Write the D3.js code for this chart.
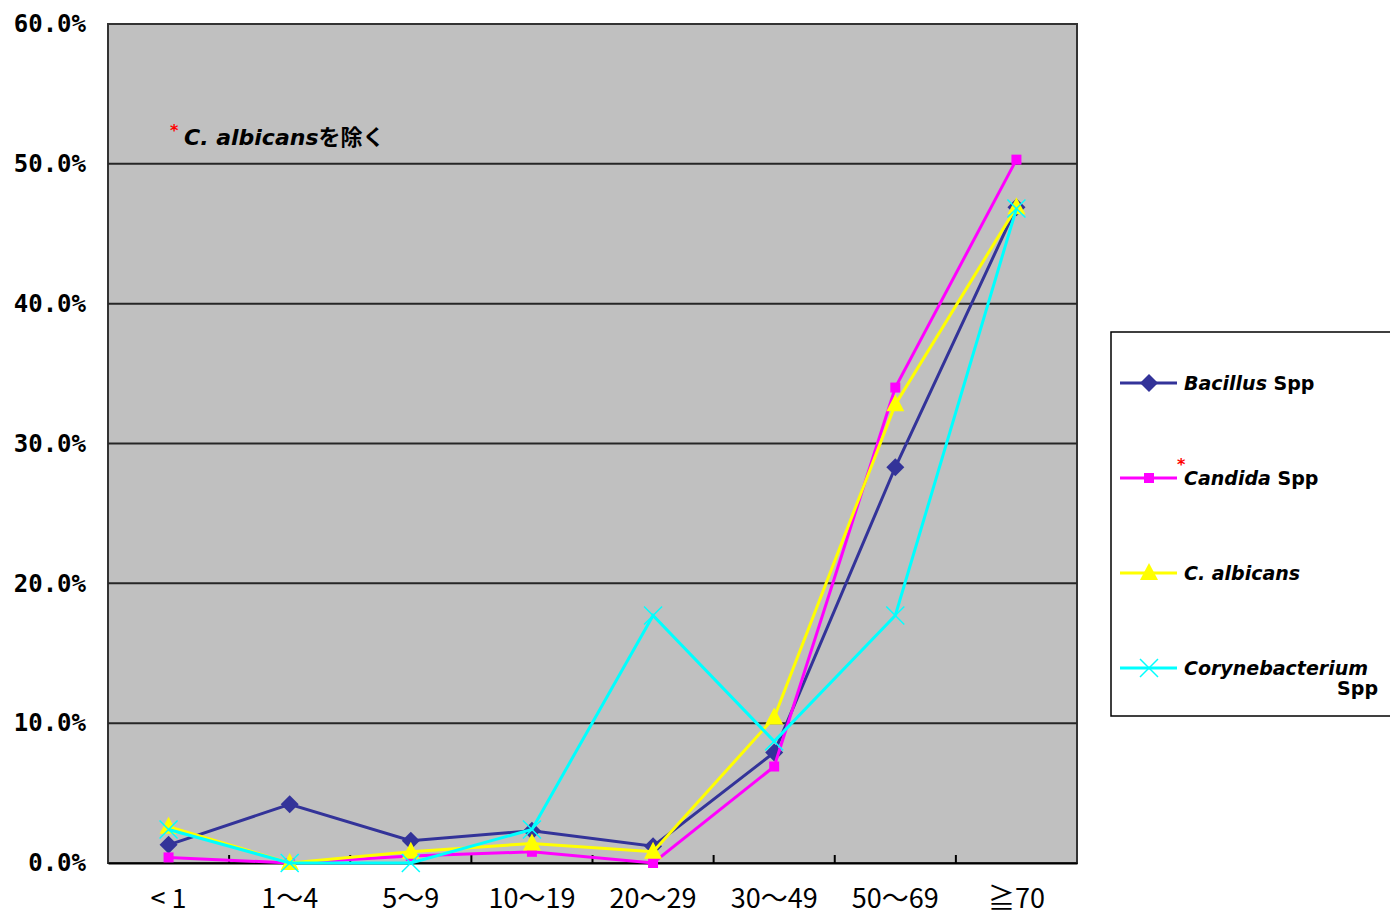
<!DOCTYPE html>
<html><head><meta charset="utf-8">
<script src="https://cdn.jsdelivr.net/npm/d3@7"></script>
<style>body{margin:0;background:#fff}svg{display:block}</style>
</head><body>
<svg id="c" width="1390" height="915"></svg>
<script>
const categories = ["< 1", "1～4", "5～9", "10～19", "20～29", "30～49", "50～69", "≧70"];
const bacillus = [1.3, 4.2, 1.6, 2.3, 1.2, 7.9, 28.3, 46.9];
const candida = [0.4, 0.0, 0.5, 0.8, 0.0, 6.9, 34.0, 50.3];
const albicans = [2.6, 0.0, 0.8, 1.4, 0.8, 10.4, 32.8, 46.9];
const coryne = [2.4, 0.0, 0.0, 2.4, 17.7, 8.7, 17.7, 46.8];
const yTicks = [0, 10, 20, 30, 40, 50, 60];

const series = [
  {name: "Bacillus", values: bacillus, color: "#333399", marker: "diamond"},
  {name: "Candida", values: candida, color: "#ff00ff", marker: "square"},
  {name: "C. albicans", values: albicans, color: "#ffff00", marker: "triangle"},
  {name: "Corynebacterium", values: coryne, color: "#00ffff", marker: "x"}
];

const svg = d3.select("#c");
const L = 108, R = 1077, T = 24, B = 863;
const x = d3.scaleBand().domain(categories).range([L, R]);
const y = d3.scaleLinear().domain([0, 60]).range([B, T]);

svg.append("rect").attr("x", L).attr("y", T).attr("width", R - L).attr("height", B - T)
  .attr("fill", "#c0c0c0").attr("stroke", "#333").attr("stroke-width", 2);

// gridlines
svg.append("g").selectAll("line").data(yTicks.filter(d => d > 0 && d < 60)).join("line")
  .attr("x1", L).attr("x2", R).attr("y1", d => y(d)).attr("y2", d => y(d))
  .attr("stroke", "#262626").attr("stroke-width", 2);

// y axis labels
const yAxis = d3.axisLeft(y).tickValues(yTicks).tickSize(0).tickPadding(22)
  .tickFormat(d => d.toFixed(1) + "%");
const gy = svg.append("g").attr("transform", `translate(${L},0)`).call(yAxis);
gy.select(".domain").remove();
gy.selectAll("text").attr("font-family", "'DejaVu Sans Mono', monospace").attr("font-weight", "bold")
  .attr("font-size", 24).attr("fill", "#000");

// x axis
const xAxis = d3.axisBottom(x).tickSize(0).tickPadding(26);
const gx = svg.append("g").attr("transform", `translate(0,${B})`).call(xAxis);
gx.select(".domain").attr("stroke", "#000").attr("stroke-width", 2);
gx.selectAll("text").attr("font-family", "'Noto Sans CJK JP', sans-serif")
  .attr("font-size", 27).attr("fill", "#000");
// boundary ticks pointing inward
svg.append("g").selectAll("line").data(categories.slice(1)).join("line")
  .attr("x1", d => x(d)).attr("x2", d => x(d)).attr("y1", B).attr("y2", B - 8)
  .attr("stroke", "#000").attr("stroke-width", 2);

const cx = (c) => x(c) + x.bandwidth() / 2;
const line = d3.line().x(d => cx(d.c)).y(d => y(d.v));

function drawMarker(g, type, px, py, color) {
  if (type === "diamond") {
    g.append("path").attr("d", `M${px},${py - 9}L${px + 9},${py}L${px},${py + 9}L${px - 9},${py}Z`)
      .attr("fill", color);
  } else if (type === "square") {
    g.append("rect").attr("x", px - 5).attr("y", py - 5).attr("width", 10).attr("height", 10).attr("fill", color);
  } else if (type === "triangle") {
    g.append("path").attr("d", `M${px},${py - 10}L${px + 9},${py + 7}L${px - 9},${py + 7}Z`).attr("fill", color);
  } else if (type === "x") {
    g.append("path").attr("d", `M${px - 9},${py - 9}L${px + 9},${py + 9}M${px + 9},${py - 9}L${px - 9},${py + 9}`)
      .attr("stroke", color).attr("stroke-width", 1.5).attr("fill", "none");
  }
}

series.forEach(s => {
  const data = categories.map((c, i) => ({c, v: s.values[i]}));
  const g = svg.append("g");
  g.append("path").datum(data).attr("d", line).attr("fill", "none")
    .attr("stroke", s.color).attr("stroke-width", 3);
  data.forEach(d => drawMarker(g, s.marker, cx(d.c), y(d.v), s.color));
});

// annotation
const ann = svg.append("text").attr("x", 184).attr("y", 145)
  .attr("font-family", "'DejaVu Sans', sans-serif").attr("font-size", 22).attr("font-weight", "bold");
ann.append("tspan").attr("font-style", "italic").text("C. albicans");
ann.append("tspan").attr("font-family", "'Noto Sans CJK JP', sans-serif").attr("font-weight", "bold").text("を除く");
svg.append("text").attr("x", 170).attr("y", 136).attr("fill", "#ff0000")
  .attr("font-family", "'DejaVu Sans', sans-serif").attr("font-size", 16).attr("font-weight", "bold").text("*");

// legend
svg.append("rect").attr("x", 1111).attr("y", 332).attr("width", 290).attr("height", 384)
  .attr("fill", "#fff").attr("stroke", "#000").attr("stroke-width", 1.5);
const rowsY = [383, 478, 573, 668];
const lg = svg.append("g");
series.forEach((s, i) => {
  const ly = rowsY[i];
  lg.append("line").attr("x1", 1120).attr("x2", 1177).attr("y1", ly).attr("y2", ly)
    .attr("stroke", s.color).attr("stroke-width", 3);
  drawMarker(lg, s.marker, 1149, ly, s.color);
});
const lfont = "'DejaVu Sans', sans-serif";
function legText(yy, italicPart, rest) {
  const t = lg.append("text").attr("x", 1184).attr("y", yy).attr("font-family", lfont)
    .attr("font-size", 19).attr("font-weight", "bold").attr("fill", "#000");
  t.append("tspan").attr("font-style", "italic").text(italicPart);
  if (rest) t.append("tspan").text(rest);
}
legText(390, "Bacillus", " Spp");
legText(485, "Candida", " Spp");
legText(580, "C. albicans", null);
legText(675, "Corynebacterium", null);
lg.append("text").attr("x", 1378).attr("y", 695).attr("text-anchor", "end").attr("font-family", lfont)
  .attr("font-size", 19).attr("font-weight", "bold").text("Spp");
lg.append("text").attr("x", 1177).attr("y", 470).attr("fill", "#ff0000").attr("font-family", lfont)
  .attr("font-size", 16).attr("font-weight", "bold").text("*");
</script>
</body></html>
